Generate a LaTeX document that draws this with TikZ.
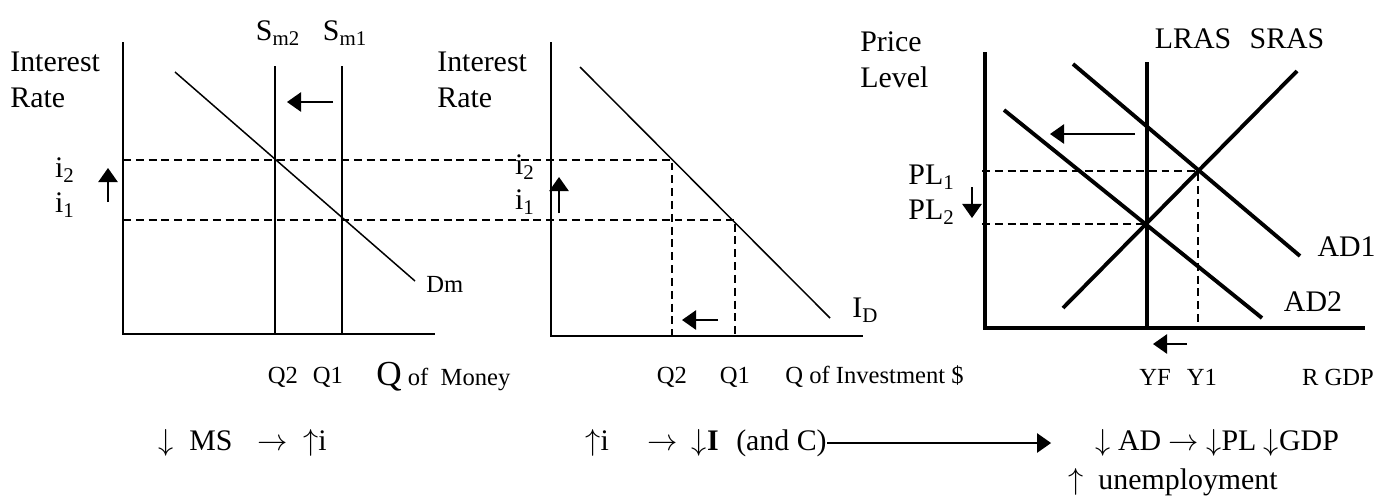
\documentclass[tikz,border=0pt]{standalone}
\usepackage{fontspec}
\setmainfont{Liberation Serif}
\usetikzlibrary{arrows.meta}

\begin{document}
\begin{tikzpicture}[
  x=0.02cm, y=-0.02cm,
  txt/.style={inner sep=0pt, font=\fontsize{17}{20.5}\selectfont},
  lbl/.style={inner sep=0pt, font=\fontsize{14}{17}\selectfont},
  axis/.style={line width=1.1pt},
  thinline/.style={line width=0.85pt},
  heavy/.style={line width=2.2pt},
  guide/.style={line width=0.8pt, dash pattern=on 4.5pt off 2.8pt},
  move/.style={line width=1pt, -{Triangle[length=8pt,width=11pt]}}
]
  \useasboundingbox (0,0) rectangle (1380,495);

  % money market
  \draw[axis] (123,42) -- (123,334) -- (435,334);
  \draw[thinline] (275,66) -- (275,334);
  \draw[thinline] (342,66) -- (342,334);
  \draw[thinline] (175,72) -- (415,281);
  \node[txt, anchor=west, align=left] (rateA) at (10,80) {Interest\\Rate};
  \node[txt] (sm2) at (278,33) {S\textsubscript{m2}};
  \node[txt] (sm1) at (345,33) {S\textsubscript{m1}};
  \node[lbl, anchor=west] (dm) at (426,284) {Dm};
  \node[txt] (i2A) at (65,170) {i\textsubscript{2}};
  \node[txt] (i1A) at (65,205) {i\textsubscript{1}};
  \draw[move] (108,202) -- (108,168);
  \draw[move] (333,102) -- (287,102);
  \node[lbl] (q2A) at (283,377) {Q2};
  \node[lbl] (q1A) at (328,377) {Q1};
  \node[lbl, anchor=west] (qmoney) at (376,377) {{\fontsize{20}{24}\selectfont Q} of\ \ Money};

  % investment demand
  \draw[axis] (551,42) -- (551,336) -- (863,336);
  \draw[thinline] (580,67) -- (830,318);
  \draw[guide] (123,160) -- (672,160) -- (672,336);
  \draw[guide] (123,220) -- (735,220) -- (735,336);
  \node[txt, anchor=west, align=left] (rateB) at (437,80) {Interest\\Rate};
  \node[txt] (i2B) at (525,167) {i\textsubscript{2}};
  \node[txt] (i1B) at (525,202) {i\textsubscript{1}};
  \draw[move] (559,213) -- (559,177);
  \draw[move] (718,320) -- (682,320);
  \node[txt, anchor=west] (idem) at (852,310) {I\textsubscript{D}};
  \node[lbl] (q2B) at (672,377) {Q2};
  \node[lbl] (q1B) at (735,377) {Q1};
  \node[lbl, anchor=west] (qinv) at (785,377) {Q of Investment \$};

  % AD / AS
  \draw[heavy] (985,52) -- (985,328) -- (1365,328);
  \draw[heavy] (1147,62) -- (1147,328);
  \draw[heavy] (1063,308) -- (1297,71);
  \draw[heavy] (1073,64) -- (1300,256);
  \draw[heavy] (1004,110) -- (1262,318);
  \draw[guide] (982,171) -- (1198,171) -- (1198,328);
  \draw[guide] (982,224) -- (1147,224);
  \node[txt, anchor=west, align=left] (price) at (860,60) {Price\\Level};
  \node[txt] (lras) at (1193,39) {LRAS};
  \node[txt] (sras) at (1287,39) {SRAS};
  \node[txt, anchor=east] (pl1) at (955,177) {PL\textsubscript{1}};
  \node[txt, anchor=east] (pl2) at (955,212) {PL\textsubscript{2}};
  \draw[move] (972,187) -- (972,218);
  \draw[move] (1135,134) -- (1050,134);
  \draw[move] (1187,344) -- (1153,344);
  \node[txt, anchor=east] (ad1) at (1376,247) {AD1};
  \node[txt] (ad2) at (1313,302) {AD2};
  \node[lbl] (yf) at (1155,377) {YF};
  \node[lbl] (y1) at (1202,377) {Y1};
  \node[lbl] (rgdp) at (1338,377) {R GDP};

  % chain of effects
  \node[txt, anchor=west] (chainA) at (158,443)
    {$\downarrow$\hspace{9pt}MS\hspace{14pt}$\rightarrow$\hspace{9pt}$\uparrow$i};
  \node[txt, anchor=west] (chainB) at (585,443)
    {$\uparrow$i\hspace{22pt}$\rightarrow$\hspace{8pt}$\downarrow$\textbf{I}\hspace{10pt}(and C)};
  \node[txt, anchor=west] (chainC) at (1095,443) {$\downarrow$ AD $\rightarrow$ $\downarrow$PL $\downarrow$GDP};
  \node[txt, anchor=west] (unemp) at (1068,482) {$\uparrow$\ \ unemployment};
  \draw[move] (chainB.east) -- (chainC.west) [shorten >=25pt];
\end{tikzpicture}
\end{document}
